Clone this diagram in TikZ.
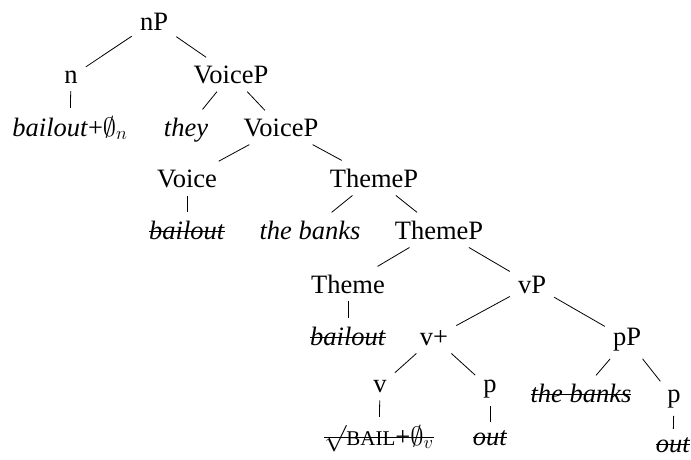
\RequirePackage{fix-cm}
\documentclass[tikz,border=0pt]{standalone}
\usepackage{fontspec}
\setmainfont{Liberation Serif}
\newcommand\strk[1]{\setbox0=\hbox{#1}\copy0\kern-\wd0\rule[.55ex]{\wd0}{0.9pt}}
\newcommand\rootsym{$\surd$}
\begin{document}
\begin{tikzpicture}[x=1pt,y=-1pt,
  lab/.style={font=\fontsize{26.5}{31}\selectfont, anchor=base, inner sep=8pt},
  edge/.style={line width=0.8pt}]
\useasboundingbox (0,0) rectangle (691,459);
% level 0
\node[lab] (nP) at (154,30) {nP};
% level 1
\node[lab] (n) at (71,83) {n};
\node[lab] (VP1) at (231,83) {VoiceP};
% level 2
\node[lab] (bail1) at (70,136) {\textit{bailout}+$\emptyset_n$};
\node[lab] (they) at (186,136) {\textit{they}};
\node[lab] (VP2) at (281,136) {VoiceP};
% level 3
\node[lab] (Voice) at (187,187) {Voice};
\node[lab] (TP1) at (374,187) {ThemeP};
% level 4
\node[lab] (bail2) at (187,239) {\strk{\textit{bailout}}};
\node[lab] (banks1) at (310,239) {\textit{the banks}};
\node[lab] (TP2) at (439,239) {ThemeP};
% level 5
\node[lab] (Theme) at (348,293) {Theme};
\node[lab] (vP) at (532,293) {vP};
% level 6
\node[lab] (bail3) at (348,345) {\strk{\textit{bailout}}};
\node[lab] (vplus) at (434,345) {v+};
\node[lab] (pP) at (627,345) {pP};
% level 7
\node[lab] (v) at (380,392) {v};
\node[lab] (p1) at (490,392) {p};
\node[lab] (banks2) at (581,402) {\strk{\textit{the banks}}};
\node[lab] (p2) at (674,402) {p};
% level 8
\node[lab] (root) at (379,445) {\strk{\rootsym{\fontsize{21}{25}\selectfont BAIL}+$\emptyset_v$}};
\node[lab] (out1) at (490,445) {\strk{\textit{out}}};
\node[lab] (out2) at (673,452) {\strk{\textit{out}}};
% edges
\draw[edge] (nP) -- (n);
\draw[edge] (nP) -- (VP1);
\draw[edge] (n) -- (bail1);
\draw[edge] (VP1) -- (they);
\draw[edge] (VP1) -- (VP2);
\draw[edge] (VP2) -- (Voice);
\draw[edge] (VP2) -- (TP1);
\draw[edge] (Voice) -- (bail2);
\draw[edge] (TP1) -- (banks1);
\draw[edge] (TP1) -- (TP2);
\draw[edge] (TP2) -- (Theme);
\draw[edge] (TP2) -- (vP);
\draw[edge] (Theme) -- (bail3);
\draw[edge] (vP) -- (vplus);
\draw[edge] (vP) -- (pP);
\draw[edge] (vplus) -- (v);
\draw[edge] (vplus) -- (p1);
\draw[edge] (v) -- (root);
\draw[edge] (p1) -- (out1);
\draw[edge] (pP) -- (banks2);
\draw[edge] (pP) -- (p2);
\draw[edge] (p2) -- (out2);
\end{tikzpicture}
\end{document}
